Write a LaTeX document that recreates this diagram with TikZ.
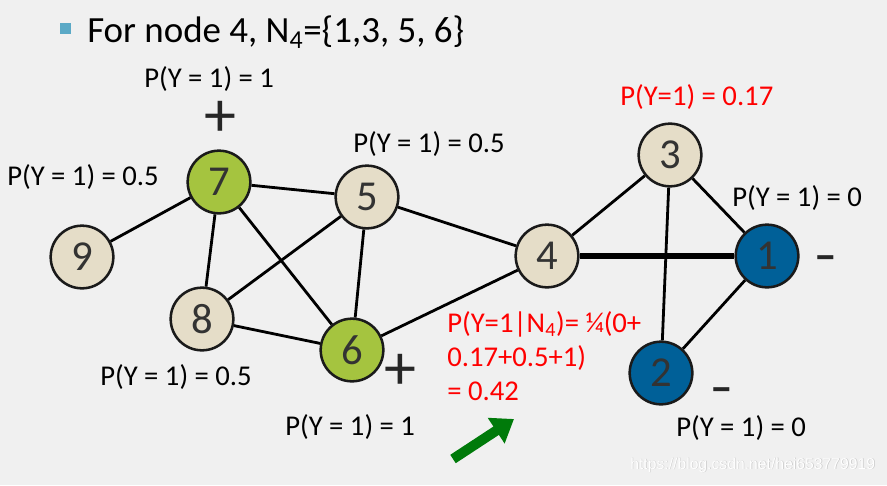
\documentclass[tikz,border=0pt]{standalone}
\usepackage{fontspec}
\setmainfont{Carlito}
\newfontfamily\wmfont{Liberation Sans}
\usetikzlibrary{arrows.meta}
\definecolor{bg}{HTML}{F0F0F0}
\definecolor{beige}{HTML}{E5DDC8}
\definecolor{leaf}{HTML}{A5C43F}
\definecolor{deepblue}{HTML}{006098}
\definecolor{rim}{HTML}{1A1A1A}
\definecolor{digit}{HTML}{333333}
\definecolor{bullet}{HTML}{5BA9C6}
\definecolor{arrowgreen}{HTML}{007A0A}
\definecolor{wmgray}{HTML}{C8C8C8}
\tikzset{
  gnode/.style={circle, draw=rim, line width=1.9pt, minimum size=47pt, inner sep=0pt,
    font=\fontsize{32}{32}\selectfont, text=digit},
  bnode/.style={gnode, fill=beige},
  gnnode/.style={gnode, fill=leaf},
  blnode/.style={gnode, fill=deepblue},
  edge/.style={draw=black, line width=2.1pt},
  thickedge/.style={draw=black, line width=4.5pt},
  lab/.style={anchor=base west, inner sep=0pt, font=\fontsize{21.5}{25.5}\selectfont},
  redlab/.style={lab, text=red},
  plussign/.style={inner sep=0pt, font=\fontsize{48}{48}\selectfont, text=black!85},
  minussign/.style={anchor=base, inner sep=0pt, font=\fontsize{34}{34}\selectfont\bfseries, text=black!85},
}
\begin{document}
\begin{tikzpicture}[x=0.75pt,y=-0.75pt]
\path[fill=bg, use as bounding box] (0,0) rectangle (887,485);

% title
\node[fill=bullet, minimum size=8.25pt, inner sep=0pt] (bul) at (65.5,29) {};
\node[anchor=base west, inner sep=0pt, font=\fontsize{27.7}{30}\selectfont] (title) at (87,43)
  {For node 4, N\textsubscript{4}=\{1,3, 5, 6\}};

% nodes
\node[gnnode] (n7) at (219,182) {7};
\node[bnode] (n5) at (367,197) {5};
\node[bnode] (n9) at (82,257) {9};
\node[bnode] (n8) at (202,319) {8};
\node[gnnode] (n6) at (352,350) {6};
\node[bnode] (n4) at (547,256) {4};
\node[bnode] (n3) at (670,155) {3};
\node[blnode] (n1) at (767,256) {1};
\node[blnode] (n2) at (661,373) {2};

% edges
\draw[edge] (n7) -- (n9);
\draw[edge] (n7) -- (n5);
\draw[edge] (n7) -- (n8);
\draw[edge] (n7) -- (n6);
\draw[edge] (n5) -- (n8);
\draw[edge] (n5) -- (n6);
\draw[edge] (n5) -- (n4);
\draw[edge] (n8) -- (n6);
\draw[edge] (n6) -- (n4);
\draw[edge] (n4) -- (n3);
\draw[thickedge] (n4) -- (n1);
\draw[edge] (n3) -- (n1);
\draw[edge] (n3) -- (n2);
\draw[edge] (n1) -- (n2);

% labels
\node[lab] (l7) at (144,87) {P(Y = 1) = 1};
\node[plussign] (p7) at (220,119) {+};
\node[lab] (l9) at (7,185) {P(Y = 1) = 0.5};
\node[lab] (l5) at (353,152) {P(Y = 1) = 0.5};
\node[redlab] (l3) at (620,105) {P(Y=1) = 0.17};
\node[lab] (l1) at (732,206) {P(Y = 1) = 0};
\node[minussign] (m1) at (826,270) {–};
\node[lab] (l8) at (100,385) {P(Y = 1) = 0.5};
\node[plussign] (p6) at (400,372) {+};
\node[lab] (l6) at (285,435) {P(Y = 1) = 1};
\node[minussign] (m2) at (722,402) {–};
\node[lab] (l2) at (676,436) {P(Y = 1) = 0};

\node[redlab] (r1) at (447,332) {P(Y=1|N\textsubscript{4})= ¼(0+};
\node[redlab] (r2) at (447,366) {0.17+0.5+1)};
\node[redlab] (r3) at (447,400) {= 0.42};

% green arrow
\coordinate (arrS) at (453,459);
\coordinate (arrE) at (514,419);
\draw[draw=arrowgreen, line width=7.5pt, -{Triangle[length=16pt,width=22pt]}] (arrS) -- (arrE);

% watermark
\node[anchor=west, inner sep=0pt, font=\wmfont\fontsize{11.8}{14}\selectfont, text=wmgray] (wm0) at (630.6,465.6) {https://blog.csdn.net/hei653779919};
\node[anchor=west, inner sep=0pt, font=\wmfont\fontsize{11.8}{14}\selectfont, text=white] (wm) at (630,465) {https://blog.csdn.net/hei653779919};
\end{tikzpicture}
\end{document}
